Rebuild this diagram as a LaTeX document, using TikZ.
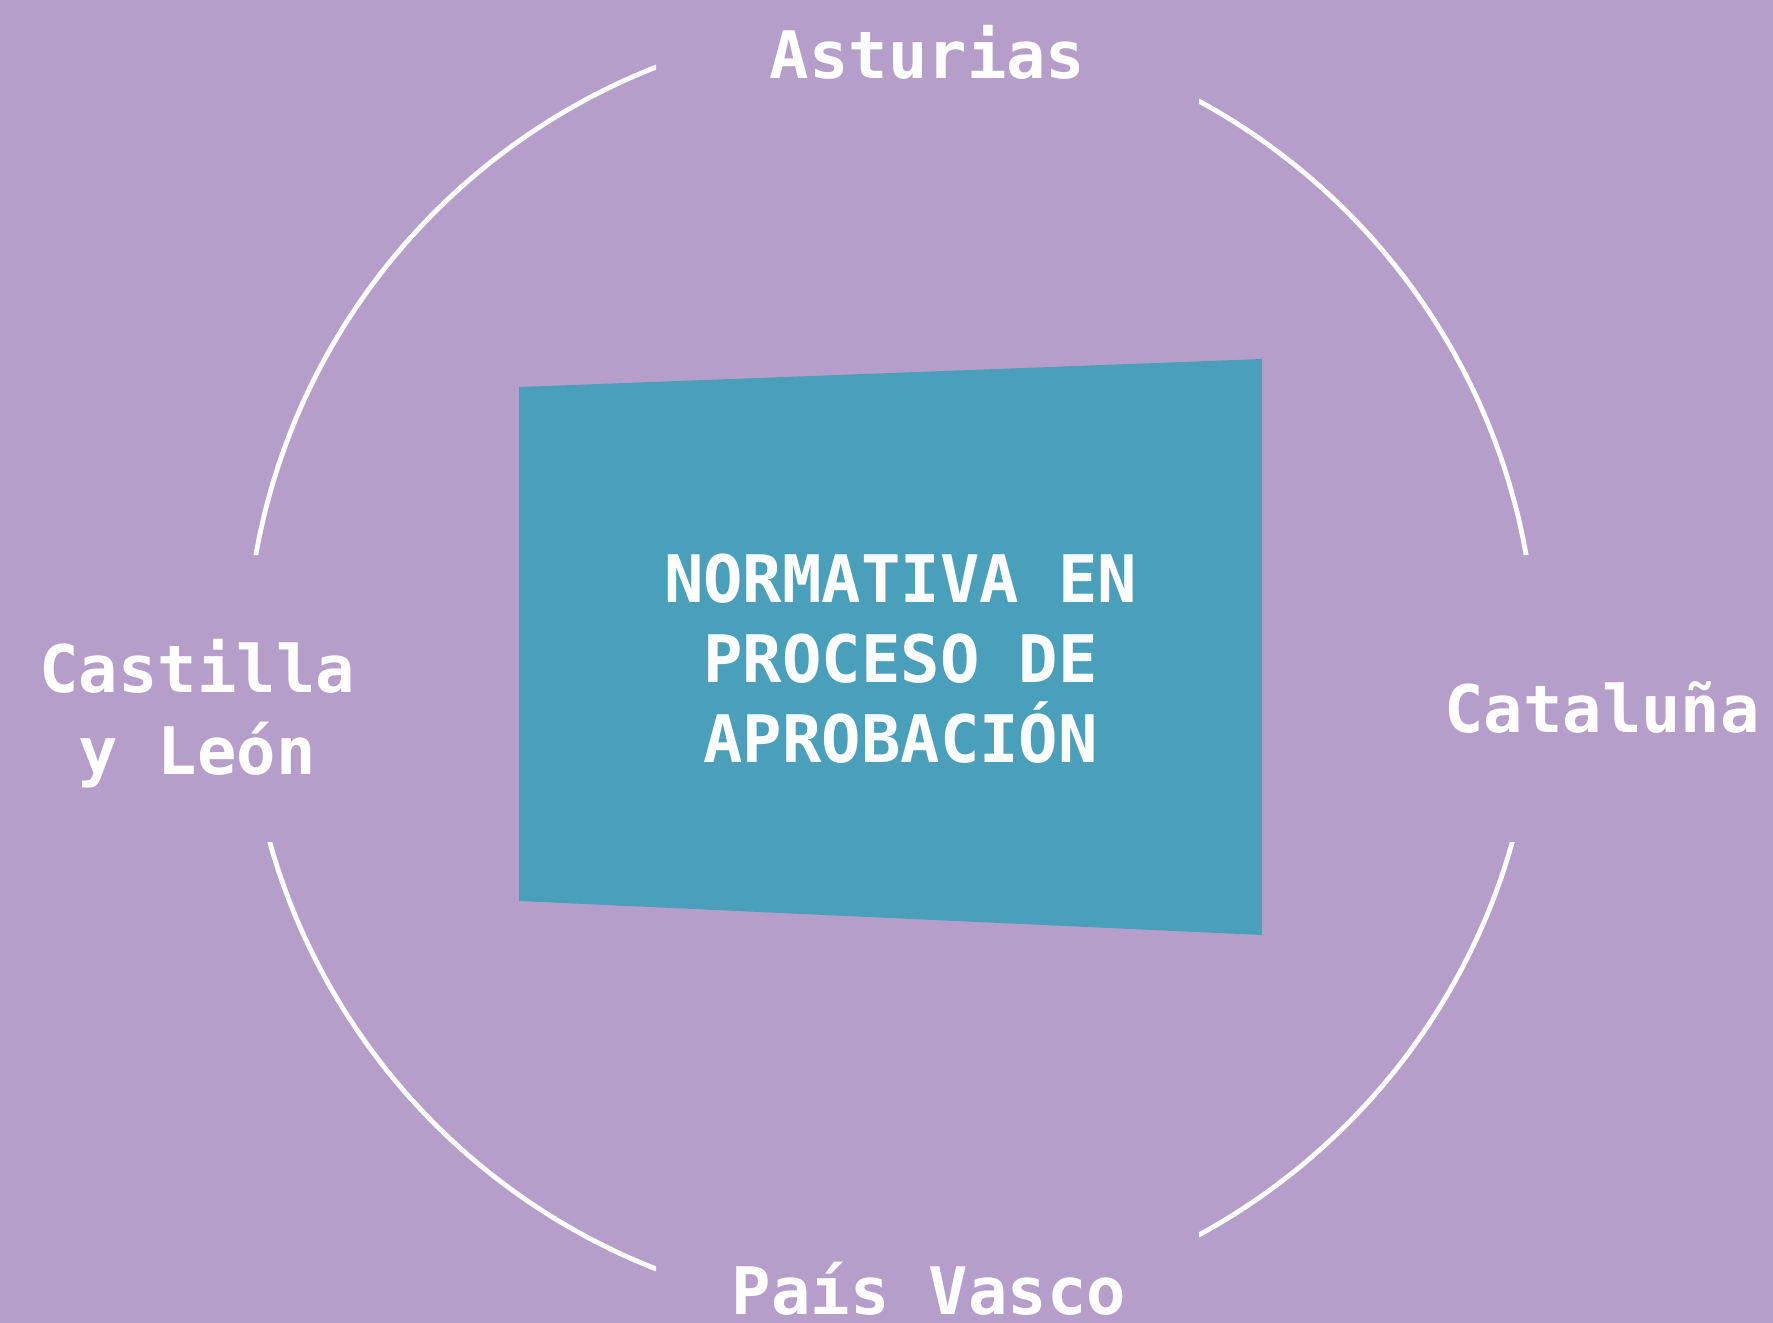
\documentclass[tikz,border=0pt]{standalone}
\usepackage{fontspec}
\setmonofont{DejaVu Sans Mono}
\definecolor{bgcol}{RGB}{181,159,202}
\definecolor{boxcol}{RGB}{74,159,186}
\tikzset{
  lbl/.style={text=white, font=\ttfamily\bfseries\fontsize{32.75}{41}\selectfont, inner sep=0pt, anchor=base, align=center},
  ring/.style={draw=white, line width=2.4pt}
}
\begin{document}
\begin{tikzpicture}[x=0.5pt,y=-0.5pt]
\fill[bgcol] (0,0) rectangle (1773,1323);
\useasboundingbox (0,0) rectangle (1773,1323);
\coordinate (c) at (891,668);
\begin{scope}[even odd rule]
  \clip (-10,-10) rectangle (1783,1333)
        (656,-10) rectangle (1199,1333)
        (-10,555) rectangle (1783,842);
  \draw[ring] (c) circle[radius=645];
\end{scope}
\fill[boxcol] (519,387) -- (1262,359) -- (1262,935) -- (519,901) -- cycle;
\node[lbl, font=\ttfamily\bfseries\fontsize{32.75}{39.85}\selectfont] (main) at (900.6,762) {NORMATIVA EN\\PROCESO DE\\APROBACIÓN};
\node[lbl] (ast) at (927.7,78) {Asturias};
\node[lbl, font=\ttfamily\bfseries\fontsize{32.75}{41.25}\selectfont] (cyl) at (197.3,774.5) {Castilla\\y León};
\node[lbl] (cat) at (1602,732.7) {Cataluña};
\node[lbl] (pv) at (929,1314) {País Vasco};
\end{tikzpicture}
\end{document}
